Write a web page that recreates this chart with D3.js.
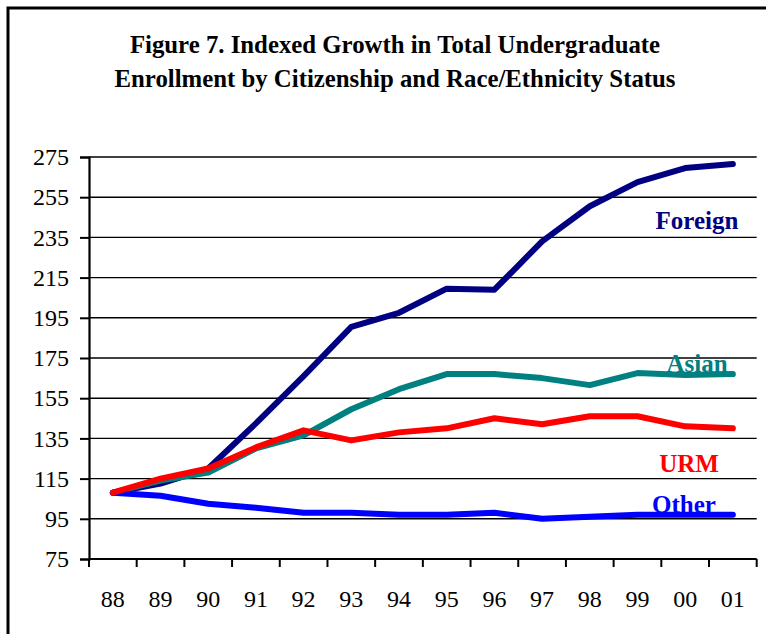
<!DOCTYPE html>
<html>
<head>
<meta charset="utf-8">
<script src="https://cdn.jsdelivr.net/npm/d3@7"></script>
<style>
  html, body { margin: 0; padding: 0; background: #fff; }
  svg { display: block; }
  text { font-family: "Times New Roman", "Liberation Serif", "DejaVu Serif", serif; }
</style>
</head>
<body>
<svg id="chart" width="766" height="634"></svg>
<script>
// ---- data ----
const years = ["88","89","90","91","92","93","94","95","96","97","98","99","00","01"];
const foreign = [108,112.5,120,142.5,166,190.5,197.5,209.5,209,233,250.5,262.5,269.5,271.5];
const asian   = [108,114,118,130,136.5,149.5,159.5,167,167,165,161.5,167.5,166.5,167];
const urm     = [108,115,120,130.5,139,134,138,140,145,142,146,146,141,140];
const other   = [108,106.5,102.5,100.5,98,98,97,97,98,95,96,97,97,97];
const yTicks  = [75,95,115,135,155,175,195,215,235,255,275];
const titleLines = ["Figure 7. Indexed Growth in Total Undergraduate",
                    "Enrollment by Citizenship and Race/Ethnicity Status"];
const seriesNames = ["Foreign","Asian","URM","Other"];
const seriesColors = ["#000080","#008080","#FF0000","#0000FF"];

const seriesList = [
  {name: seriesNames[0], values: foreign, color: seriesColors[0], lx: 697, ly: 229},
  {name: seriesNames[1], values: asian,   color: seriesColors[1], lx: 697, ly: 372},
  {name: seriesNames[3], values: other,   color: seriesColors[3], lx: 684, ly: 513},
  {name: seriesNames[2], values: urm,     color: seriesColors[2], lx: 689, ly: 472}
];

const svg = d3.select("#chart");

// outer border
svg.append("rect")
  .attr("x", 8).attr("y", 8).attr("width", 790).attr("height", 660)
  .attr("fill", "none").attr("stroke", "#000").attr("stroke-width", 3);

// title
svg.append("g").selectAll("text").data(titleLines).join("text")
  .attr("x", 395)
  .attr("y", (d, i) => 53 + i * 33.5)
  .attr("text-anchor", "middle")
  .attr("font-size", 24.8)
  .attr("font-weight", "bold")
  .attr("fill", "#000")
  .text(d => d);

const pLeft = 89, pRight = 756.7, pTop = 157, pBottom = 559;

const x = d3.scaleBand().domain(years).range([pLeft, pRight]).paddingInner(0).paddingOuter(0);
const y = d3.scaleLinear().domain([75, 275]).range([pBottom, pTop]);

// gridlines
svg.append("g").selectAll("line").data(yTicks.slice(1)).join("line")
  .attr("x1", pLeft).attr("x2", pRight)
  .attr("y1", d => y(d)).attr("y2", d => y(d))
  .attr("stroke", "#000").attr("stroke-width", 1.4);

// y axis
const yAxis = d3.axisLeft(y).tickValues(yTicks).tickSize(9).tickPadding(11).tickFormat(d3.format("d"));
const gy = svg.append("g").attr("transform", `translate(${pLeft},0)`).call(yAxis)
  .attr("font-size", 24).attr("font-family", "'Times New Roman', 'Liberation Serif', serif");
gy.select(".domain").attr("stroke", "#000").attr("stroke-width", 2.2);
gy.selectAll(".tick line").attr("stroke", "#000").attr("stroke-width", 2);
gy.selectAll(".tick text").attr("fill", "#000");

// x axis with ticks at band boundaries
const boundaries = years.map(d => x(d)).concat([pRight]);
const gx = svg.append("g");
gx.append("line").attr("x1", pLeft).attr("x2", pRight).attr("y1", pBottom).attr("y2", pBottom)
  .attr("stroke", "#000").attr("stroke-width", 2.2);
gx.selectAll("line.tk").data(boundaries).join("line").attr("class", "tk")
  .attr("x1", d => d).attr("x2", d => d).attr("y1", pBottom).attr("y2", pBottom + 8)
  .attr("stroke", "#000").attr("stroke-width", 2);
gx.selectAll("text").data(years).join("text")
  .attr("x", d => x(d) + x.bandwidth() / 2)
  .attr("y", 607)
  .attr("text-anchor", "middle")
  .attr("font-size", 24)
  .attr("fill", "#000")
  .text(d => d);

// lines
const line = d3.line()
  .x((d, i) => x(years[i]) + x.bandwidth() / 2)
  .y(d => y(d));

svg.append("g").selectAll("path").data(seriesList).join("path")
  .attr("d", d => line(d.values))
  .attr("fill", "none")
  .attr("stroke", d => d.color)
  .attr("stroke-width", 6)
  .attr("stroke-linejoin", "round")
  .attr("stroke-linecap", "round");

// series labels
svg.append("g").selectAll("text").data(seriesList).join("text")
  .attr("x", d => d.lx).attr("y", d => d.ly)
  .attr("text-anchor", "middle")
  .attr("font-size", 25)
  .attr("font-weight", "bold")
  .attr("fill", d => d.color)
  .text(d => d.name);
</script>
</body>
</html>
